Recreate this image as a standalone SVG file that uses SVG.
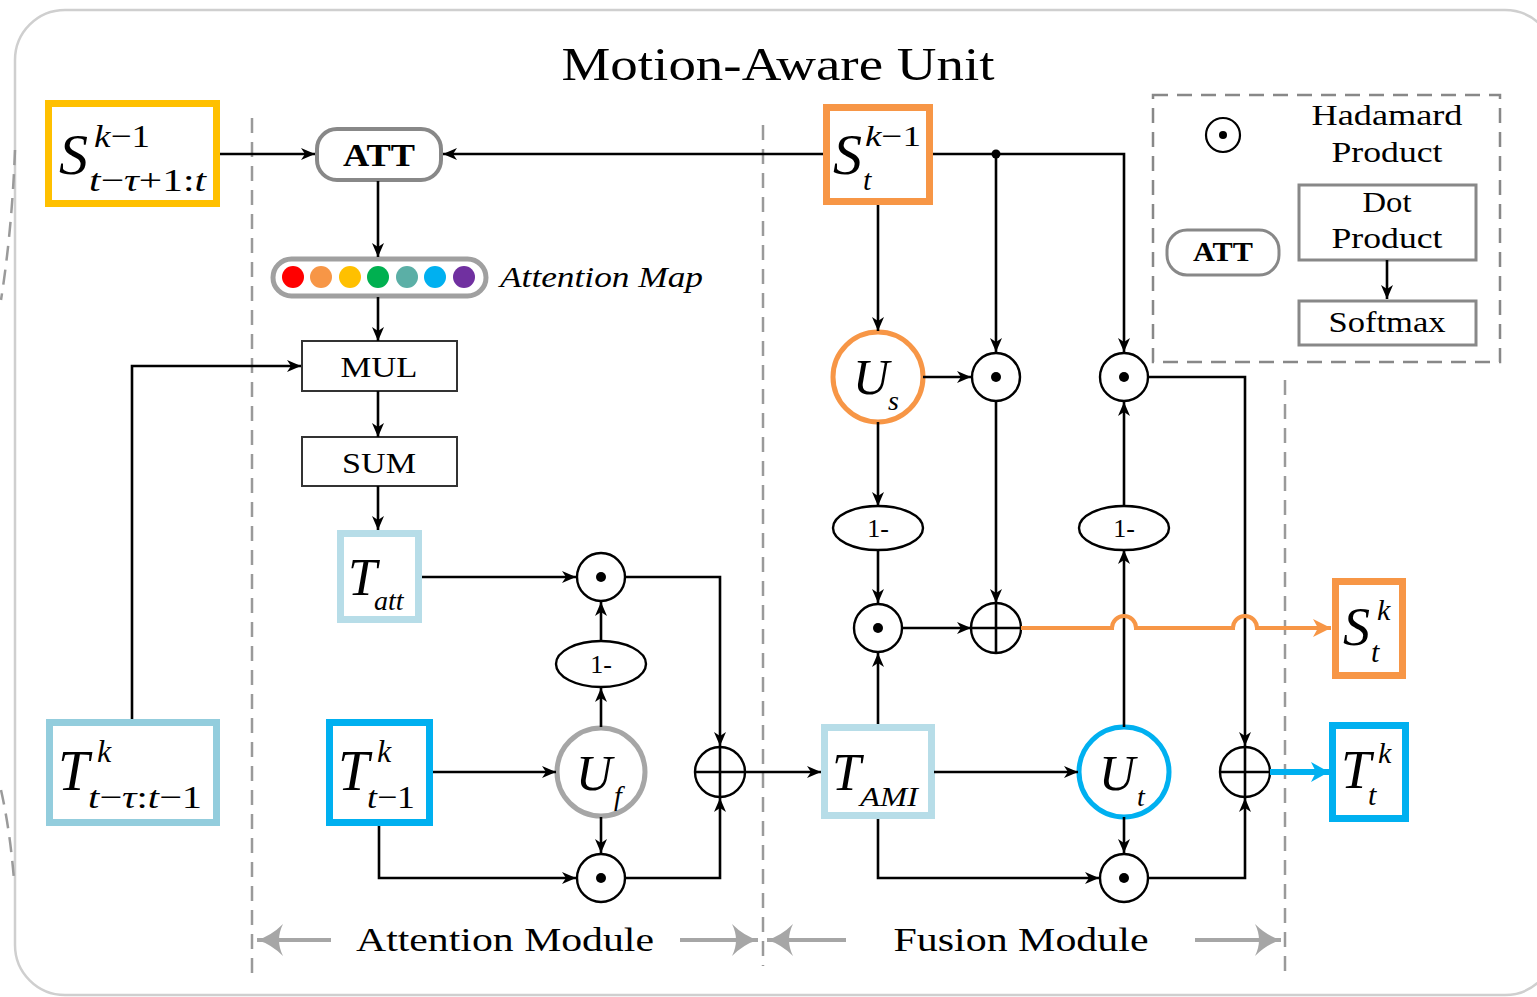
<svg xmlns="http://www.w3.org/2000/svg" width="1537" height="997" viewBox="0 0 1537 997">
<defs>
<style>
.ln{fill:none;stroke:#000;stroke-width:2.6}
.dash{fill:none;stroke:#9a9a9a;stroke-width:2.5;stroke-dasharray:15 9}
.op{fill:#fff;stroke:#000;stroke-width:2.4}
.t{font-family:"Liberation Serif","DejaVu Serif",serif;fill:#000}
.m{font-family:"Liberation Serif","DejaVu Serif",serif;font-style:italic;fill:#000}
.b{font-family:"Liberation Serif","DejaVu Serif",serif;font-weight:bold;fill:#000}
.gbox{fill:#fff;stroke:#888;stroke-width:3}
.kbox{fill:#fff;stroke:#333;stroke-width:2}
</style>
<marker id="ah" viewBox="0 0 14 12" refX="14" refY="6" markerWidth="14" markerHeight="12" orient="auto" markerUnits="userSpaceOnUse"><path d="M0,0 L14,6 L0,12 L4,6 z" fill="#000"/></marker>
<marker id="aho" viewBox="0 0 18 18" refX="18" refY="9" markerWidth="18" markerHeight="18" orient="auto" markerUnits="userSpaceOnUse"><path d="M0,0 L18,9 L0,18 L5,9 z" fill="#F79646"/></marker>
<marker id="ahb" viewBox="0 0 18 20" refX="18" refY="10" markerWidth="18" markerHeight="20" orient="auto" markerUnits="userSpaceOnUse"><path d="M0,0 L18,10 L0,20 L5,10 z" fill="#00B0F0"/></marker>
<marker id="ahg" viewBox="0 0 26 32" refX="26" refY="16" markerWidth="26" markerHeight="32" orient="auto" markerUnits="userSpaceOnUse"><path d="M0,0 Q12,12 26,16 Q12,20 0,32 Q8,16 0,0 z" fill="#a6a6a6"/></marker>
</defs>

<rect x="15" y="10" width="1540" height="985" rx="50" fill="#fff" stroke="#cfcfcf" stroke-width="2.5"/>
<path d="M15,150 Q12,230 1,300" class="dash" stroke="#b0b0b0" stroke-width="2"/>
<path d="M1,790 Q10,830 14,880" class="dash" stroke="#b0b0b0" stroke-width="2"/>

<text class="t" x="778" y="80" text-anchor="middle" font-size="46" textLength="433" lengthAdjust="spacingAndGlyphs">Motion-Aware Unit</text>

<g id="dividers">
<line x1="252" y1="118" x2="252" y2="973" class="dash"/>
<line x1="763" y1="125" x2="763" y2="966" class="dash"/>
<line x1="1285" y1="380" x2="1285" y2="973" class="dash"/>
</g>

<g id="legend">
<rect x="1153" y="95" width="347" height="267" fill="none" stroke="#888" stroke-width="2.5" stroke-dasharray="15 9"/>
<circle cx="1223" cy="135" r="17" fill="#fff" stroke="#000" stroke-width="2.2"/>
<circle cx="1223" cy="135" r="4" fill="#000"/>
<text class="t" x="1387" y="125" text-anchor="middle" font-size="29" textLength="151" lengthAdjust="spacingAndGlyphs">Hadamard</text>
<text class="t" x="1387" y="162" text-anchor="middle" font-size="29" textLength="111" lengthAdjust="spacingAndGlyphs">Product</text>
<rect x="1167" y="230" width="112" height="45" rx="20" class="gbox"/>
<text class="b" x="1223" y="261" text-anchor="middle" font-size="28" textLength="60" lengthAdjust="spacingAndGlyphs">ATT</text>
<rect x="1299" y="185" width="177" height="75" class="gbox"/>
<text class="t" x="1387" y="212" text-anchor="middle" font-size="29" textLength="49" lengthAdjust="spacingAndGlyphs">Dot</text>
<text class="t" x="1387" y="248" text-anchor="middle" font-size="29" textLength="111" lengthAdjust="spacingAndGlyphs">Product</text>
<line x1="1387" y1="260" x2="1387" y2="299" class="ln" marker-end="url(#ah)"/>
<rect x="1299" y="301" width="177" height="44" class="gbox"/>
<text class="t" x="1387" y="332" text-anchor="middle" font-size="29" textLength="117" lengthAdjust="spacingAndGlyphs">Softmax</text>
</g>

<g id="S_prev_seq">
<rect x="48.5" y="103.5" width="168" height="100" fill="#fff" stroke="#FFC000" stroke-width="7"/>
<text class="m" x="59" y="174" font-size="58">S</text>
<text class="t" x="94" y="147" font-size="32" font-style="italic" textLength="56" lengthAdjust="spacingAndGlyphs">k<tspan font-style="normal">−1</tspan></text>
<text class="m" x="89" y="191" font-size="32" textLength="117" lengthAdjust="spacingAndGlyphs">t<tspan font-style="normal">−</tspan>τ<tspan font-style="normal">+1:</tspan>t</text>
</g>

<g id="ATT">
<rect x="317" y="129" width="124" height="51" rx="20" fill="#fff" stroke="#888" stroke-width="4"/>
<text class="b" x="379" y="166" text-anchor="middle" font-size="32" textLength="72" lengthAdjust="spacingAndGlyphs">ATT</text>
</g>

<g id="attention_map">
<rect x="273" y="259" width="213" height="37" rx="18.5" fill="#fff" stroke="#a0a0a0" stroke-width="5"/>
<circle cx="293" cy="277" r="11" fill="#FF0000"/>
<circle cx="321" cy="277" r="11" fill="#F79646"/>
<circle cx="350" cy="277" r="11" fill="#FFC000"/>
<circle cx="378" cy="277" r="11" fill="#00B050"/>
<circle cx="407" cy="277" r="11" fill="#5BAFA6"/>
<circle cx="435" cy="277" r="11" fill="#00B0F0"/>
<circle cx="464" cy="277" r="11" fill="#7030A0"/>
<text class="m" x="500" y="287" font-size="30" textLength="203" lengthAdjust="spacingAndGlyphs">Attention Map</text>
</g>

<g id="MUL">
<rect x="302" y="341" width="155" height="50" class="kbox"/>
<text class="t" x="379" y="377" text-anchor="middle" font-size="29" textLength="77" lengthAdjust="spacingAndGlyphs">MUL</text>
</g>
<g id="SUM">
<rect x="302" y="437" width="155" height="49" class="kbox"/>
<text class="t" x="379" y="473" text-anchor="middle" font-size="29" textLength="74" lengthAdjust="spacingAndGlyphs">SUM</text>
</g>

<g id="T_att">
<rect x="340.5" y="533.5" width="78" height="86" fill="#fff" stroke="#B7DDE8" stroke-width="7"/>
<text class="m" x="348" y="595" font-size="52">T</text>
<text class="m" x="374" y="610" font-size="28">att</text>
</g>

<g id="T_seq">
<rect x="49.5" y="722.5" width="167" height="100" fill="#fff" stroke="#93CDDD" stroke-width="7"/>
<text class="m" x="58" y="790" font-size="56">T</text>
<text class="m" x="97" y="762" font-size="32">k</text>
<text class="m" x="88" y="808" font-size="32" textLength="114" lengthAdjust="spacingAndGlyphs">t<tspan font-style="normal">−</tspan>τ<tspan font-style="normal">:</tspan>t<tspan font-style="normal">−1</tspan></text>
</g>

<g id="T_prev">
<rect x="329.5" y="722.5" width="100" height="100" fill="#fff" stroke="#00B0F0" stroke-width="7"/>
<text class="m" x="338" y="790" font-size="56">T</text>
<text class="m" x="377" y="762" font-size="32">k</text>
<text class="m" x="367" y="808" font-size="32" textLength="48" lengthAdjust="spacingAndGlyphs">t<tspan font-style="normal">−1</tspan></text>
</g>

<g id="U_f">
<circle cx="601" cy="772" r="44" fill="#fff" stroke="#A6A6A6" stroke-width="5"/>
<text class="m" x="576" y="790" font-size="50">U</text>
<text class="m" x="614" y="805" font-size="28">f</text>
</g>

<g id="had_att_top">
<circle cx="601" cy="577" r="24" class="op"/><circle cx="601" cy="577" r="5" fill="#000"/>
</g>
<g id="one_minus_f">
<ellipse cx="601" cy="664" rx="45" ry="23" class="op"/>
<text class="t" x="601" y="673" text-anchor="middle" font-size="26">1-</text>
</g>
<g id="had_att_bottom">
<circle cx="601" cy="878" r="24" class="op"/><circle cx="601" cy="878" r="5" fill="#000"/>
</g>
<g id="plus_att">
<circle cx="720" cy="772" r="25" class="op"/>
<path d="M695,772 H745 M720,747 V797" class="ln"/>
</g>

<g id="S_prev">
<rect x="826.5" y="107.5" width="103" height="94" fill="#fff" stroke="#F79646" stroke-width="7"/>
<text class="m" x="833" y="174" font-size="58">S</text>
<text class="t" x="865" y="146" font-size="30" font-style="italic" textLength="56" lengthAdjust="spacingAndGlyphs">k<tspan font-style="normal">−1</tspan></text>
<text class="m" x="863" y="190" font-size="30">t</text>
</g>

<g id="U_s">
<circle cx="878" cy="377" r="45" fill="#fff" stroke="#F79646" stroke-width="5"/>
<text class="m" x="853" y="394" font-size="50">U</text>
<text class="m" x="888" y="410" font-size="28">s</text>
</g>

<g id="had_s"><circle cx="996" cy="377" r="24" class="op"/><circle cx="996" cy="377" r="5" fill="#000"/></g>
<g id="had_t_top"><circle cx="1124" cy="377" r="24" class="op"/><circle cx="1124" cy="377" r="5" fill="#000"/></g>
<g id="one_minus_s">
<ellipse cx="878" cy="528" rx="45" ry="22" class="op"/>
<text class="t" x="878" y="537" text-anchor="middle" font-size="26">1-</text>
</g>
<g id="one_minus_t">
<ellipse cx="1124" cy="528" rx="45" ry="22" class="op"/>
<text class="t" x="1124" y="537" text-anchor="middle" font-size="26">1-</text>
</g>
<g id="had_fs"><circle cx="878" cy="628" r="24" class="op"/><circle cx="878" cy="628" r="5" fill="#000"/></g>
<g id="plus_s">
<circle cx="996" cy="628" r="25" class="op"/>
<path d="M971,628 H1021 M996,603 V653" class="ln"/>
</g>

<g id="T_AMI">
<rect x="824.5" y="727.5" width="107" height="88" fill="#fff" stroke="#B7DDE8" stroke-width="7"/>
<text class="m" x="832" y="790" font-size="52">T</text>
<text class="m" x="860" y="806" font-size="28" textLength="58" lengthAdjust="spacingAndGlyphs">AMI</text>
</g>

<g id="U_t">
<circle cx="1124" cy="772" r="45" fill="#fff" stroke="#00B0F0" stroke-width="5"/>
<text class="m" x="1099" y="790" font-size="50">U</text>
<text class="m" x="1137" y="806" font-size="28">t</text>
</g>
<g id="had_t_bottom"><circle cx="1124" cy="878" r="24" class="op"/><circle cx="1124" cy="878" r="5" fill="#000"/></g>
<g id="plus_t">
<circle cx="1245" cy="772" r="25" class="op"/>
<path d="M1220,772 H1270 M1245,747 V797" class="ln"/>
</g>

<g id="S_out">
<rect x="1335.5" y="581.5" width="67" height="94" fill="#fff" stroke="#F79646" stroke-width="7"/>
<text class="m" x="1343" y="645" font-size="54">S</text>
<text class="m" x="1377" y="620" font-size="30">k</text>
<text class="m" x="1371" y="662" font-size="30">t</text>
</g>
<g id="T_out">
<rect x="1332.5" y="725.5" width="73" height="93" fill="#fff" stroke="#00B0F0" stroke-width="7"/>
<text class="m" x="1341" y="788" font-size="54">T</text>
<text class="m" x="1378" y="763" font-size="30">k</text>
<text class="m" x="1368" y="805" font-size="30">t</text>
</g>

<g id="connectors">
<path d="M220,154 H315" class="ln" marker-end="url(#ah)"/>
<path d="M823,154 H443" class="ln" marker-end="url(#ah)"/>
<path d="M378,181 V257" class="ln" marker-end="url(#ah)"/>
<path d="M378,297 V341" class="ln" marker-end="url(#ah)"/>
<path d="M378,391 V437" class="ln" marker-end="url(#ah)"/>
<path d="M378,486 V530" class="ln" marker-end="url(#ah)"/>
<path d="M132,719 V366 H301" class="ln" marker-end="url(#ah)"/>
<path d="M422,577 H576" class="ln" marker-end="url(#ah)"/>
<path d="M625,577 H720 V746" class="ln" marker-end="url(#ah)"/>
<path d="M433,772 H556" class="ln" marker-end="url(#ah)"/>
<path d="M379,826 V878 H576" class="ln" marker-end="url(#ah)"/>
<path d="M601,727 V688" class="ln" marker-end="url(#ah)"/>
<path d="M601,641 V602" class="ln" marker-end="url(#ah)"/>
<path d="M601,817 V853" class="ln" marker-end="url(#ah)"/>
<path d="M625,878 H720 V798" class="ln" marker-end="url(#ah)"/>
<path d="M745,772 H821" class="ln" marker-end="url(#ah)"/>
<path d="M878,205 V331" class="ln" marker-end="url(#ah)"/>
<path d="M933,154 H1124 V352" class="ln" marker-end="url(#ah)"/>
<path d="M996,154 V352" class="ln" marker-end="url(#ah)"/>
<circle cx="996" cy="154" r="4.5" fill="#000"/>
<path d="M923,377 H971" class="ln" marker-end="url(#ah)"/>
<path d="M996,401 V603" class="ln" marker-end="url(#ah)"/>
<path d="M878,422 V506" class="ln" marker-end="url(#ah)"/>
<path d="M878,550 V603" class="ln" marker-end="url(#ah)"/>
<path d="M878,724 V653" class="ln" marker-end="url(#ah)"/>
<path d="M902,628 H971" class="ln" marker-end="url(#ah)"/>
<path d="M934,772 H1078" class="ln" marker-end="url(#ah)"/>
<path d="M878,819 V878 H1099" class="ln" marker-end="url(#ah)"/>
<path d="M1124,817 V853" class="ln" marker-end="url(#ah)"/>
<path d="M1124,727 V550" class="ln" marker-end="url(#ah)"/>
<path d="M1124,506 V402" class="ln" marker-end="url(#ah)"/>
<path d="M1148,377 H1245 V746" class="ln" marker-end="url(#ah)"/>
<path d="M1148,878 H1245 V798" class="ln" marker-end="url(#ah)"/>
<path d="M1021,628 H1112 A12,12 0 0 1 1136,628 H1233 A12,12 0 0 1 1257,628 H1331" fill="none" stroke="#F79646" stroke-width="4" marker-end="url(#aho)"/>
<path d="M1270,772 H1329" fill="none" stroke="#00B0F0" stroke-width="6" marker-end="url(#ahb)"/>
</g>

<g id="module_labels">
<path d="M331,940 H257" fill="none" stroke="#a6a6a6" stroke-width="4" marker-end="url(#ahg)"/>
<path d="M680,940 H758" fill="none" stroke="#a6a6a6" stroke-width="4" marker-end="url(#ahg)"/>
<path d="M846,940 H767" fill="none" stroke="#a6a6a6" stroke-width="4" marker-end="url(#ahg)"/>
<path d="M1195,940 H1281" fill="none" stroke="#a6a6a6" stroke-width="4" marker-end="url(#ahg)"/>
<text class="t" x="505" y="951" text-anchor="middle" font-size="34" textLength="298" lengthAdjust="spacingAndGlyphs">Attention Module</text>
<text class="t" x="1021" y="951" text-anchor="middle" font-size="34" textLength="255" lengthAdjust="spacingAndGlyphs">Fusion Module</text>
</g>
</svg>
